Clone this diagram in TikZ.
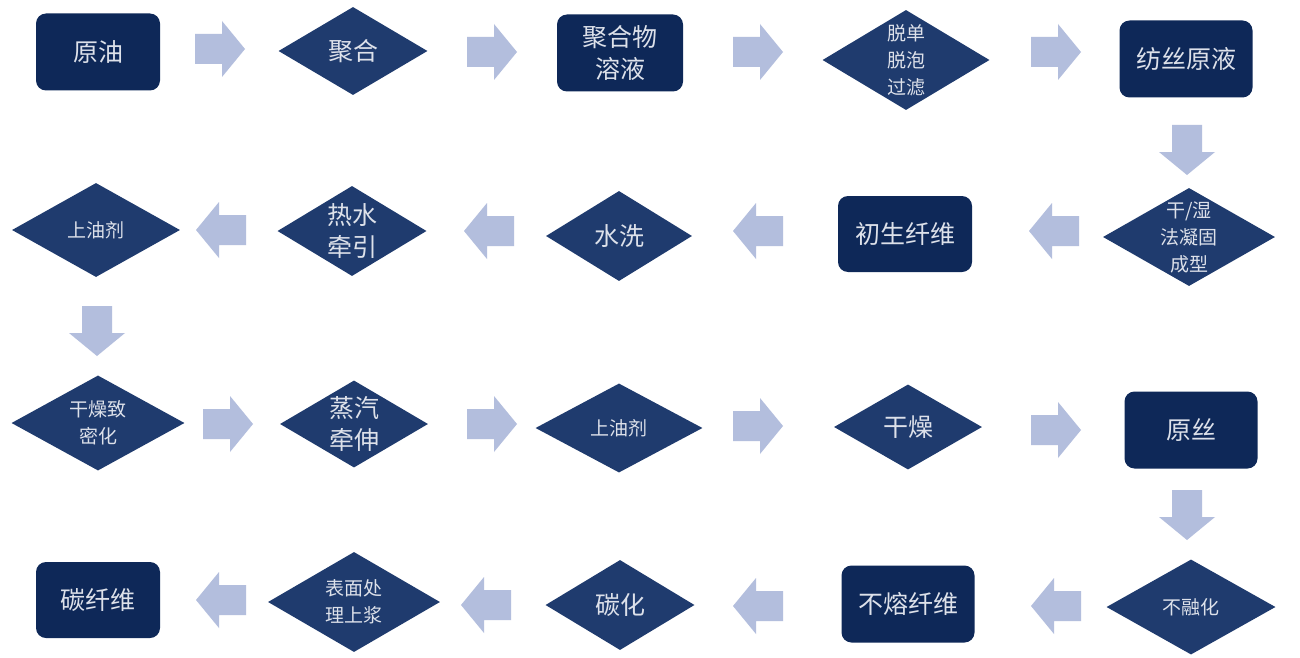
\documentclass[tikz,border=0pt]{standalone}
\usepackage{fontspec}
\newfontfamily\cjk{Noto Sans CJK SC}
\usetikzlibrary{shapes.geometric}
\definecolor{boxc}{HTML}{0E2858}
\definecolor{diac}{HTML}{1F3B6E}
\definecolor{arrowc}{HTML}{B3BEDD}
\definecolor{txtc}{HTML}{DDE1EA}
\newcommand{\blockarrow}[3]{\fill[arrowc, shift={(#1,#2)}, rotate=#3]
  (-25,-15) -- (2,-15) -- (2,-28) -- (25,0) -- (2,28) -- (2,15) -- (-25,15) -- cycle;}
\begin{document}
\begin{tikzpicture}[x=1pt,y=-1pt,
  big/.style={font=\cjk\fontsize{25}{32}\selectfont},
  small/.style={font=\cjk\fontsize{19}{27}\selectfont},
  boxn/.style={rectangle, rounded corners=10pt, fill=boxc, text=txtc, align=center, inner sep=0pt, big},
  dia/.style={diamond, fill=diac, text=txtc, align=center, inner sep=-30pt}]
\useasboundingbox[fill=white] (0,0) rectangle (1300,658);
% row 1
\node[boxn, minimum width=124, minimum height=77] (n1) at (98,52) {原油};
\node[dia, big, minimum width=149, minimum height=88] (n2) at (353,51) {聚合};
\node[boxn, minimum width=126, minimum height=77] (n3) at (620,53) {聚合物\\溶液};
\node[dia, small, minimum width=167, minimum height=100] (n4) at (906,60) {脱单\\脱泡\\过滤};
\node[boxn, minimum width=133, minimum height=77] (n5) at (1186,59) {纺丝原液};
% row 2
\node[dia, small, minimum width=172, minimum height=98] (n6) at (1189,237) {干/湿\\法凝固\\成型};
\node[boxn, minimum width=134, minimum height=76] (n7) at (905,234) {初生纤维};
\node[dia, big, minimum width=146, minimum height=90] (n8) at (619,236) {水洗};
\node[dia, big, minimum width=149, minimum height=90] (n9) at (352,231) {热水\\牵引};
\node[dia, small, minimum width=168, minimum height=94] (n10) at (96,230) {上油剂};
% row 3
\node[dia, small, minimum width=173, minimum height=95] (n11) at (98,423) {干燥致\\密化};
\node[dia, big, minimum width=148, minimum height=87] (n12) at (354,424) {蒸汽\\牵伸};
\node[dia, small, minimum width=167, minimum height=89] (n13) at (619,428) {上油剂};
\node[dia, big, minimum width=148, minimum height=85] (n14) at (908,427) {干燥};
\node[boxn, minimum width=133, minimum height=77] (n15) at (1191,430) {原丝};
% row 4
\node[dia, small, minimum width=169, minimum height=95] (n16) at (1191,607) {不融化};
\node[boxn, minimum width=133, minimum height=77] (n17) at (908,604) {不熔纤维};
\node[dia, big, minimum width=149, minimum height=90] (n18) at (620,605) {碳化};
\node[dia, small, minimum width=172, minimum height=100] (n19) at (354,602) {表面处\\理上浆};
\node[boxn, minimum width=124, minimum height=76] (n20) at (98,600) {碳纤维};
% arrows
\blockarrow{220}{49}{0}
\blockarrow{492}{52}{0}
\blockarrow{758}{52}{0}
\blockarrow{1056}{52}{0}
\blockarrow{1187}{150}{-90}
\blockarrow{1054}{231}{180}
\blockarrow{758}{231}{180}
\blockarrow{489}{231}{180}
\blockarrow{221}{230}{180}
\blockarrow{97}{331}{-90}
\blockarrow{228}{424}{0}
\blockarrow{492}{424}{0}
\blockarrow{758}{426}{0}
\blockarrow{1056}{430}{0}
\blockarrow{1187}{515}{-90}
\blockarrow{1056}{606}{180}
\blockarrow{758}{606}{180}
\blockarrow{486}{605}{180}
\blockarrow{221}{600}{180}
\end{tikzpicture}
\end{document}
